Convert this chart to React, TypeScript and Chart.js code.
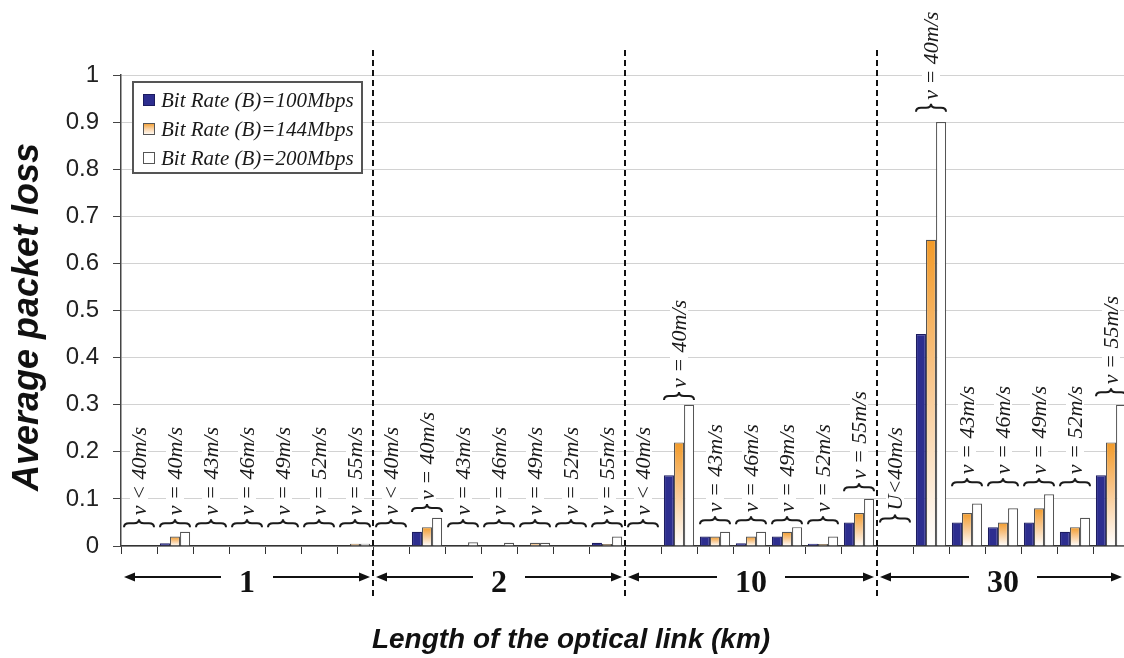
import React, { useEffect, useRef } from 'react';
import { Chart, registerables } from 'chart.js';

Chart.register(...registerables);

// ---------- data ----------
const groups = ['1', '2', '10', '30'];
const speedLabelsStd = ['ν < 40m/s', 'ν = 40m/s', 'ν = 43m/s', 'ν = 46m/s', 'ν = 49m/s', 'ν = 52m/s', 'ν = 55m/s'];
const speedLabels30 = ['U<40m/s', 'ν = 40m/s', 'ν = 43m/s', 'ν = 46m/s', 'ν = 49m/s', 'ν = 52m/s', 'ν = 55m/s'];
const speedLabelsByGroup = [speedLabelsStd, speedLabelsStd, speedLabelsStd, speedLabels30];
const categories = groups.flatMap((g, gi) => speedLabelsByGroup[gi].map((s) => `${g} km, ${s}`));
const annotationTexts = speedLabelsByGroup.flat();

const seriesNames = ['Bit Rate (B)=100Mbps', 'Bit Rate (B)=144Mbps', 'Bit Rate (B)=200Mbps'];

const rate100 = [
  0, 0.006, 0, 0, 0, 0, 0,
  0, 0.03, 0, 0, 0, 0, 0.007,
  0, 0.15, 0.02, 0.006, 0.02, 0.005, 0.05,
  0, 0.45, 0.05, 0.04, 0.05, 0.03, 0.15,
];
const rate144 = [
  0, 0.02, 0, 0, 0, 0, 0.005,
  0, 0.04, 0, 0, 0.007, 0, 0.004,
  0, 0.22, 0.02, 0.02, 0.03, 0.004, 0.07,
  0, 0.65, 0.07, 0.05, 0.08, 0.04, 0.22,
];
const rate200 = [
  0, 0.03, 0, 0, 0, 0, 0.005,
  0, 0.06, 0.008, 0.007, 0.007, 0, 0.02,
  0, 0.3, 0.03, 0.03, 0.04, 0.02, 0.1,
  0, 0.9, 0.09, 0.08, 0.11, 0.06, 0.3,
];
// level (in packet-loss units) of the bottom of each curly brace annotation
const braceLevels = [
  0.04, 0.04, 0.04, 0.04, 0.04, 0.04, 0.04,
  0.04, 0.072, 0.04, 0.04, 0.04, 0.04, 0.04,
  0.04, 0.31, 0.046, 0.046, 0.046, 0.046, 0.116,
  0.05, 0.922, 0.127, 0.127, 0.127, 0.127, 0.318,
];
const yTicks = [0, 0.1, 0.2, 0.3, 0.4, 0.5, 0.6, 0.7, 0.8, 0.9, 1];

const BLUE = '#2d2e8f';
const ORANGE = '#f29a28';

function orangeFill(context: any) {
  const chart = context.chart;
  const v = context.raw;
  if (!chart.chartArea || typeof v !== 'number' || !chart.scales.y) return ORANGE;
  const top = chart.scales.y.getPixelForValue(v);
  const bottom = chart.scales.y.getPixelForValue(0);
  if (bottom - top < 1) return ORANGE;
  const g = chart.ctx.createLinearGradient(0, top, 0, bottom);
  g.addColorStop(0, ORANGE);
  g.addColorStop(0.45, '#f8c58a');
  g.addColorStop(1, '#ffffff');
  return g;
}

const SERIF = '"Liberation Serif", "Times New Roman", serif';
const SANS = '"Liberation Sans", Arial, sans-serif';

function drawArrow(ctx: CanvasRenderingContext2D, xFrom: number, xTo: number, y: number) {
  const dir = xTo > xFrom ? 1 : -1;
  ctx.beginPath();
  ctx.moveTo(xFrom, y);
  ctx.lineTo(xTo - dir * 6, y);
  ctx.stroke();
  ctx.beginPath();
  ctx.moveTo(xTo, y);
  ctx.lineTo(xTo - dir * 11, y - 4.5);
  ctx.lineTo(xTo - dir * 11, y + 4.5);
  ctx.closePath();
  ctx.fill();
}

const overlayPlugin = {
  id: 'overlay',
  afterDatasetsDraw(chart: any) {
    const ctx: CanvasRenderingContext2D = chart.ctx;
    const xs = chart.scales.x;
    const ys = chart.scales.y;
    const area = chart.chartArea;
    const step = xs.getPixelForValue(1) - xs.getPixelForValue(0);
    const n = categories.length;

    // braces and rotated speed labels
    ctx.save();
    for (let i = 0; i < n; i++) {
      const xc = xs.getPixelForValue(i);
      const x0 = xc - step / 2 + 3;
      const x1 = xc + step / 2 - 3;
      const yb = ys.getPixelForValue(braceLevels[i]);
      const ym = yb - 4;
      const yt = yb - 8;
      ctx.strokeStyle = '#1a1a1a';
      ctx.lineWidth = 2;
      ctx.beginPath();
      ctx.moveTo(x0, yb);
      ctx.quadraticCurveTo(x0, ym, x0 + 5, ym);
      ctx.lineTo(xc - 5, ym);
      ctx.quadraticCurveTo(xc, ym, xc, yt);
      ctx.quadraticCurveTo(xc, ym, xc + 5, ym);
      ctx.lineTo(x1 - 5, ym);
      ctx.quadraticCurveTo(x1, ym, x1, yb);
      ctx.stroke();

      ctx.save();
      ctx.translate(xc, yt - 4);
      ctx.rotate(-Math.PI / 2);
      ctx.font = `italic 22px ${SERIF}`;
      const label = annotationTexts[i];
      const w = ctx.measureText(label).width;
      ctx.fillStyle = '#ffffff';
      ctx.fillRect(-1, -9, w + 3, 18);
      ctx.fillStyle = '#1a1a1a';
      ctx.textAlign = 'left';
      ctx.textBaseline = 'middle';
      ctx.fillText(label, 0, 1);
      ctx.restore();
    }
    ctx.restore();

    // group separators (dashed)
    const bounds: number[] = [area.left];
    for (let g = 1; g < groups.length; g++) {
      const idx = g * 7;
      bounds.push((xs.getPixelForValue(idx - 1) + xs.getPixelForValue(idx)) / 2);
    }
    bounds.push(area.right);
    ctx.save();
    ctx.strokeStyle = '#111';
    ctx.lineWidth = 2;
    ctx.setLineDash([6, 4]);
    for (let g = 1; g < groups.length; g++) {
      ctx.beginPath();
      ctx.moveTo(bounds[g], 50);
      ctx.lineTo(bounds[g], 598);
      ctx.stroke();
    }
    ctx.restore();

    // group arrows and labels
    ctx.save();
    ctx.strokeStyle = '#111';
    ctx.fillStyle = '#111';
    ctx.lineWidth = 2;
    const arrowY = area.bottom + 31;
    ctx.font = `bold 32px ${SERIF}`;
    ctx.textAlign = 'center';
    ctx.textBaseline = 'alphabetic';
    for (let g = 0; g < groups.length; g++) {
      const left = bounds[g] + 3;
      const right = Math.min(bounds[g + 1] - 3, 1122);
      const cx = (bounds[g] + bounds[g + 1]) / 2;
      const tw = ctx.measureText(groups[g]).width;
      ctx.fillText(groups[g], cx, area.bottom + 46);
      drawArrow(ctx, cx - tw / 2 - 18, left, arrowY);
      drawArrow(ctx, cx + tw / 2 + 18, right, arrowY);
    }
    ctx.restore();

    // legend
    ctx.save();
    const lx = 133, ly = 82, lw = 229, lh = 91;
    ctx.fillStyle = '#ffffff';
    ctx.fillRect(lx, ly, lw, lh);
    ctx.strokeStyle = '#555';
    ctx.lineWidth = 2;
    ctx.strokeRect(lx, ly, lw, lh);
    ctx.font = `italic 21px ${SERIF}`;
    ctx.textAlign = 'left';
    ctx.textBaseline = 'middle';
    const rows = [100, 129, 158];
    seriesNames.forEach((name, k) => {
      const sy = rows[k];
      let fill: any = '#ffffff';
      if (k === 0) fill = BLUE;
      if (k === 1) {
        const g = ctx.createLinearGradient(0, sy - 6, 0, sy + 6);
        g.addColorStop(0, ORANGE);
        g.addColorStop(0.5, '#f9d3a8');
        g.addColorStop(1, '#ffffff');
        fill = g;
      }
      ctx.fillStyle = fill;
      ctx.fillRect(143, sy - 6, 11, 11);
      ctx.strokeStyle = k === 0 ? '#1c1c60' : '#555';
      ctx.lineWidth = 1;
      ctx.strokeRect(143.5, sy - 5.5, 11, 11);
      ctx.fillStyle = '#1a1a1a';
      ctx.fillText(name, 161, sy + 1);
    });
    ctx.restore();

    // axis titles
    ctx.save();
    ctx.fillStyle = '#111';
    ctx.font = `italic bold 28px ${SANS}`;
    ctx.textAlign = 'center';
    ctx.textBaseline = 'alphabetic';
    ctx.fillText('Length of the optical link (km)', 571, 648);
    ctx.translate(38, 317);
    ctx.rotate(-Math.PI / 2);
    ctx.font = `italic bold 36px ${SANS}`;
    ctx.fillText('Average packet loss', 0, 0);
    ctx.restore();
  },
};

export default function App() {
  const canvasRef = useRef<HTMLCanvasElement | null>(null);

  useEffect(() => {
    if (!canvasRef.current) return;
    const common = {
      borderWidth: 1.2,
      categoryPercentage: 0.84,
      barPercentage: 1.0,
    };
    const chart = new Chart(canvasRef.current, {
      type: 'bar',
      data: {
        labels: categories,
        datasets: [
          { label: seriesNames[0], data: rate100, backgroundColor: BLUE, borderColor: '#1c1c60', ...common },
          { label: seriesNames[1], data: rate144, backgroundColor: orangeFill, borderColor: '#555', ...common },
          { label: seriesNames[2], data: rate200, backgroundColor: '#ffffff', borderColor: '#555', ...common },
        ],
      },
      options: {
        animation: false,
        responsive: false,
        maintainAspectRatio: false,
        devicePixelRatio: 1,
        events: [],
        layout: { padding: { top: 75, left: 0, right: 11, bottom: 0 } },
        plugins: {
          legend: { display: false },
          tooltip: { enabled: false },
        },
        scales: {
          x: {
            ticks: { autoSkip: false, maxRotation: 0, callback: () => '' },
            grid: { drawOnChartArea: false, drawTicks: true, tickLength: 8, tickColor: '#333', offset: true },
            border: { color: '#333', width: 1.5 },
            afterFit: (s: any) => { s.height = 112; },
          },
          y: {
            min: 0,
            max: 1,
            afterBuildTicks: (s: any) => { s.ticks = yTicks.map((v) => ({ value: v })); },
            ticks: {
              font: { family: SANS, size: 24 },
              color: '#222',
              padding: 14,
              callback: (v: any) => String(Math.round(Number(v) * 10) / 10),
            },
            grid: { color: '#d2d2d2', tickColor: '#444', tickLength: 8, lineWidth: 1 },
            border: { color: '#444', width: 1.5 },
            afterFit: (s: any) => { s.width = 121; },
          },
        },
      },
      plugins: [overlayPlugin],
    } as any);
    return () => chart.destroy();
  }, []);

  return (
    <div style={{ position: 'fixed', left: 0, top: 0, width: 1124, height: 658, overflow: 'hidden', background: '#fff' }}>
      <canvas ref={canvasRef} width={1140} height={658} style={{ display: 'block', width: 1140, height: 658 }} />
    </div>
  );
}
